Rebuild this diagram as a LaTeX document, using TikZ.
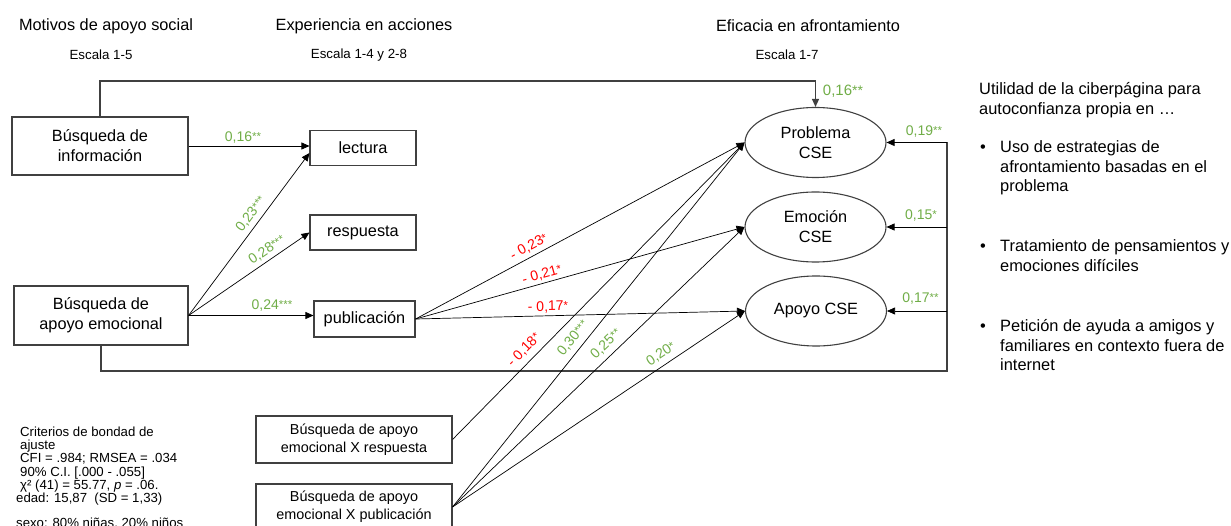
\documentclass[tikz,border=0pt]{standalone}
\usepackage{fontspec}
\setmainfont{Liberation Sans}
\usetikzlibrary{arrows.meta,shapes.geometric}
\definecolor{grn}{RGB}{112,173,71}
\definecolor{rd}{RGB}{255,0,0}
\definecolor{bord}{RGB}{64,64,64}
\newcommand\fs[2]{\fontsize{#1}{#2}\selectfont}
\newcommand\stars[1]{{\fs{11.5}{11.5}\raisebox{1pt}{#1}}}
\newcommand\bigstars[1]{{\fs{14}{14}#1}}
\begin{document}
\begin{tikzpicture}[x=1pt,y=-1pt,
  box/.style={draw=bord,line width=1.1pt,rectangle,inner sep=0pt,align=center,font=\fs{16.3}{20}},
  xbox/.style={box,font=\fs{14.4}{18}},
  ell/.style={draw=bord,line width=1.1pt,ellipse,inner sep=0pt,minimum width=141pt,minimum height=70pt,align=center,font=\fs{16.3}{20}},
  arr/.style={draw=black,line width=0.7pt,-{Triangle[length=8pt,width=7pt]}},
  loopline/.style={draw=bord,line width=1.2pt},
  lab/.style={inner sep=0pt,font=\fs{14}{14}},
  glab/.style={lab,text=grn}, rlab/.style={lab,text=rd},
  hdr/.style={inner sep=0pt,font=\fs{16.3}{20}},
  subhdr/.style={inner sep=0pt,font=\fs{13.3}{16}},
  rtext/.style={inner sep=0pt,anchor=base west,font=\fs{16.4}{19.5}},
  ctext/.style={inner sep=0pt,anchor=base west,font=\fs{13.2}{13.3}}]
\useasboundingbox (0,0) rectangle (1231,526);

% headings
\node[hdr] (t1) at (106,26) {Motivos de apoyo social};
\node[subhdr] (s1) at (101,55) {Escala 1-5};
\node[hdr] (t2) at (364,26) {Experiencia en acciones};
\node[subhdr] (s2) at (359,55) {Escala 1-4 y 2-8};
\node[hdr] (t3) at (808,26) {Eficacia en afrontamiento};
\node[subhdr] (s3) at (787,55) {Escala 1-7};

% boxes
\node[box,minimum width=176pt,minimum height=58pt] (info) at (100,146) {Búsqueda de\\información};
\node[box,minimum width=174pt,minimum height=59pt] (apoyo) at (101,315.5) {Búsqueda de\\apoyo emocional};
\node[box,minimum width=106pt,minimum height=35pt] (lectura) at (363,148) {lectura};
\node[box,minimum width=106pt,minimum height=35pt] (respuesta) at (363,232.5) {respuesta};
\node[box,minimum width=101pt,minimum height=36pt] (publicacion) at (364.5,319) {publicación};
\node[xbox,minimum width=196pt,minimum height=47pt] (xresp) at (354,439.5) {Búsqueda de apoyo\\emocional X respuesta};
\node[xbox,minimum width=196pt,minimum height=46pt] (xpub) at (354,507) {Búsqueda de apoyo\\emocional X publicación};

% ellipses
\node[ell] (prob) at (815.5,142.5) {Problema\\CSE};
\node[ell] (emo) at (815.5,227) {Emoción\\CSE};
\node[ell] (apo) at (816,311) {Apoyo CSE};

% loops
\coordinate (tl) at (100,81);
\draw[loopline,-{Triangle[length=8pt,width=7pt]}] (info.north) -- (info.north |- tl) -| (prob.north);
\coordinate (bl) at (947,371);
\draw[loopline] (apoyo.south) |- (bl) -- (bl |- prob.east);
\draw[arr] (bl |- prob.east) -- (prob.east);
\draw[arr] (bl |- emo.east) -- (emo.east);
\draw[arr] (bl |- apo.east) -- (apo.east);

% first stage
\draw[arr] (info.east) -- (info.east -| lectura.west);
\draw[arr] (apoyo.east) -- ([yshift=-5pt]lectura.west);
\draw[arr] (apoyo.east) -- (respuesta.west);
\draw[arr] (apoyo.east) -- (apoyo.east -| publicacion.west);

% second stage
\draw[arr] (publicacion.east) -- (prob.west);
\draw[arr] (publicacion.east) -- (emo.west);
\draw[arr] (publicacion.east) -- (apo.west);
\draw[arr] (xresp.east) -- (prob.west);
\draw[arr] (xpub.east) -- (prob.west);
\draw[arr] (xpub.east) -- (emo.west);
\draw[arr] (xpub.east) -- (apo.west);

% labels
\node[glab] (l1) at (243,138) {0,16\stars{**}};
\node[glab,rotate=53.2] (l2) at (251,214) {0,23\stars{***}};
\node[glab,rotate=34.2] (l3) at (267,250) {0,28\stars{***}};
\node[glab] (l4) at (272,306) {0,24\stars{***}};
\node[rlab,rotate=28.1] (l5) at (529,247) {- 0,23\stars{*}};
\node[rlab,rotate=15.6] (l6) at (542,275) {- 0,21\stars{*}};
\node[rlab,rotate=1] (l7) at (548,307) {- 0,17\stars{*}};
\node[rlab,rotate=45.4] (l8) at (524,350) {- 0,18\stars{*}};
\node[glab,rotate=51.1] (l9) at (573,338) {0,30\stars{***}};
\node[glab,rotate=43.6] (l10) at (606,344) {0,25\stars{**}};
\node[glab,rotate=33.6] (l11) at (661,354) {0,20\stars{*}};
\node[glab,font=\fs{15}{15}] (l12) at (843,91) {0,16\bigstars{**}};
\node[glab] (l13) at (924,132) {0,19\stars{**}};
\node[glab] (l14) at (921,216) {0,15\stars{*}};
\node[glab] (l15) at (920.5,299) {0,17\stars{**}};

% right text
\node[rtext] (ut) at (979,95) {\begin{tabular}[t]{@{}l@{}}Utilidad de la ciberpágina para\\autoconfianza propia en …\end{tabular}};
\node[rtext] (b1) at (980,153) {\begin{tabular}[t]{@{}p{20pt}@{}l@{}}•&Uso de estrategias de\\&afrontamiento basadas en el\\&problema\end{tabular}};
\node[rtext] (b2) at (980,252) {\begin{tabular}[t]{@{}p{20pt}@{}l@{}}•&Tratamiento de pensamientos y\\&emociones difíciles\end{tabular}};
\node[rtext] (b3) at (980,332) {\begin{tabular}[t]{@{}p{20pt}@{}l@{}}•&Petición de ayuda a amigos y\\&familiares en contexto fuera de\\&internet\end{tabular}};

% fit criteria
\node[ctext] (crit) at (20,436) {\begin{tabular}[t]{@{}l@{}}Criterios de bondad de\\ajuste\\CFI = .984; RMSEA = .034\\90\% C.I. [.000 - .055]\\χ² (41) = 55.77, \textit{p} = .06.\end{tabular}};
\node[ctext] (edad) at (16,502) {edad: 15,87~ (SD = 1,33)};
\node[ctext] (sexo) at (16,527) {sexo: 80\% niñas, 20\% niños};
\end{tikzpicture}
\end{document}
